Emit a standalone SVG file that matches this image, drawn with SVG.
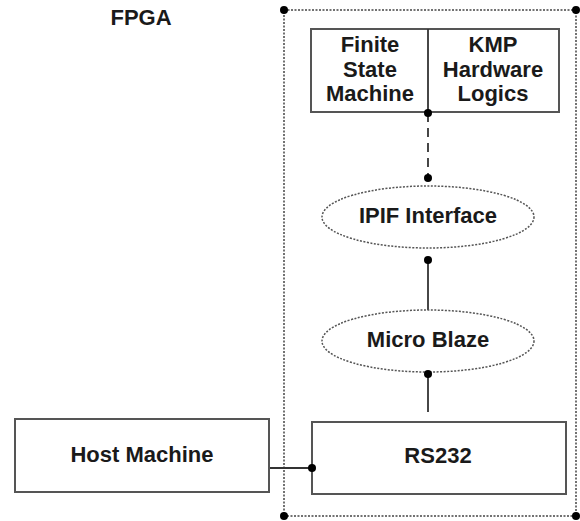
<svg xmlns="http://www.w3.org/2000/svg" width="580" height="521" viewBox="0 0 580 521">
<style>
text{font-family:"Liberation Sans",Arial,sans-serif;font-weight:bold;font-size:22px;fill:#1a1a1a;text-anchor:middle}
.box{fill:#fff;stroke:#555;stroke-width:2}
.dotted{fill:none;stroke:#444;stroke-width:1.5;stroke-dasharray:2 1.5}
.ell{fill:#fff;stroke:#555;stroke-width:1.5;stroke-dasharray:2 1.5}
.line{stroke:#333;stroke-width:1.8;fill:none}
.dot{fill:#000}
</style>
<rect width="580" height="521" fill="#fff"/>
<g id="fpga">
<rect class="dotted" x="284" y="10" width="292" height="506"/>
<circle class="dot" cx="284" cy="10" r="4"/>
<circle class="dot" cx="576" cy="10" r="4"/>
<circle class="dot" cx="284" cy="516" r="4"/>
<circle class="dot" cx="576" cy="516" r="4"/>
<text x="141" y="25">FPGA</text>
</g>
<g id="connectors">
<line class="line" x1="428" y1="113" x2="428" y2="178" stroke-dasharray="9 6"/>
<line class="line" x1="428" y1="260" x2="428" y2="310"/>
<line class="line" x1="428" y1="373" x2="428" y2="412"/>
<line class="line" x1="269" y1="468" x2="312" y2="468"/>
</g>
<g id="fsm-kmp">
<rect class="box" x="311" y="29" width="248" height="83"/>
<line class="line" x1="428" y1="29" x2="428" y2="112"/>
<text x="370" y="52">Finite</text>
<text x="370" y="76.5">State</text>
<text x="370" y="101">Machine</text>
<text x="493" y="52">KMP</text>
<text x="493" y="76.5">Hardware</text>
<text x="493" y="101">Logics</text>
<circle class="dot" cx="428" cy="113" r="4"/>
</g>
<g id="ipif">
<ellipse class="ell" cx="428" cy="217" rx="106" ry="31"/>
<text x="428" y="223">IPIF Interface</text>
<circle class="dot" cx="428" cy="178" r="4"/>
<circle class="dot" cx="428" cy="260" r="4"/>
</g>
<g id="microblaze">
<ellipse class="ell" cx="428" cy="341" rx="106" ry="31"/>
<text x="428" y="347">Micro Blaze</text>
<circle class="dot" cx="428" cy="374" r="4"/>
</g>
<g id="host">
<rect class="box" x="15" y="419" width="254" height="73"/>
<text x="142" y="462">Host Machine</text>
</g>
<g id="rs232">
<rect class="box" x="312" y="422" width="254" height="72"/>
<text x="438" y="463">RS232</text>
<circle class="dot" cx="312" cy="468" r="4"/>
</g>
</svg>
